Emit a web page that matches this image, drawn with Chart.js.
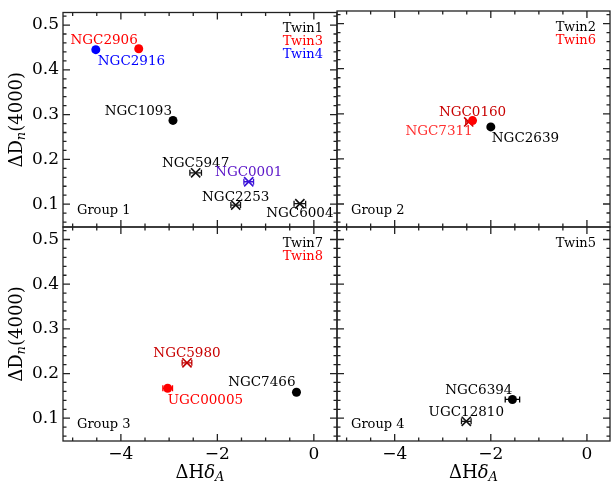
<!DOCTYPE html>
<html>
<head>
<meta charset="utf-8">
<script src="https://cdn.jsdelivr.net/npm/chart.js@4.4.0/dist/chart.umd.min.js"></script>
<style>
  body { margin: 0; background: #fff; }
  #wrap { position: relative; width: 611px; height: 483px; }
  #wrap canvas { position: absolute; left: 0; top: 0; }
</style>
</head>
<body>
<div id="wrap">
  <canvas id="c1" width="611" height="483"></canvas>
  <canvas id="c2" width="611" height="483"></canvas>
  <canvas id="c3" width="611" height="483"></canvas>
  <canvas id="c4" width="611" height="483"></canvas>
</div>
<script>
// twin pairs: delta Hdelta_A vs delta Dn(4000), one panel per group
const xRange = [-5.2, 0.48];
const yRange = [0.049, 0.528];
const xTickStep = 2;
const yTickStep = 0.1;

const g1Names = ['NGC2906', 'NGC2916', 'NGC1093', 'NGC5947', 'NGC0001', 'NGC2253', 'NGC6004'];
const g1X     = [-3.63, -4.52, -2.92, -2.45, -1.35, -1.62, -0.29];
const g1Y     = [0.447, 0.445, 0.287, 0.170, 0.150, 0.098, 0.101];
const g1Xerr  = [0.05, 0.05, 0.05, 0.12, 0.10, 0.10, 0.12];
const g1Twins = ['Twin1', 'Twin3', 'Twin4'];

const g2Names = ['NGC7311', 'NGC0160', 'NGC2639'];
const g2X     = [-2.46, -2.38, -2.00];
const g2Y     = [0.282, 0.285, 0.271];
const g2Xerr  = [0.06, 0.05, 0.05];
const g2Twins = ['Twin2', 'Twin6'];

const g3Names = ['NGC5980', 'UGC00005', 'NGC7466'];
const g3X     = [-2.63, -3.03, -0.36];
const g3Y     = [0.224, 0.167, 0.158];
const g3Xerr  = [0.10, 0.10, 0.05];
const g3Twins = ['Twin7', 'Twin8'];

const g4Names = ['NGC6394', 'UGC12810'];
const g4X     = [-1.55, -2.51];
const g4Y     = [0.142, 0.093];
const g4Xerr  = [0.15, 0.10];
const g4Twins = ['Twin5'];

// styling: marker kind, marker colour, label colour, label placement [align, dx, dy]
const panels = [
  { id: 'c1', title: 'Group 1', names: g1Names, xs: g1X, ys: g1Y, xerr: g1Xerr, twins: g1Twins,
    twinColors: ['#000', '#ff0000', '#0000ff'],
    marker: ['dot', 'dot', 'dot', 'cross', 'cross', 'cross', 'cross'],
    color: ['#ff0000', '#0000ff', '#000', '#111', '#3a12d8', '#111', '#111'],
    textColor: ['#ff0000', '#0000ff', '#000', '#000', '#5a14c8', '#000', '#000'],
    place: [['right', -1, -8], ['left', 2, 12], ['right', -1, -9], ['center', 0, -9],
            ['center', 0, -9], ['center', 0, -8], ['center', 0, 10]],
    pad: { left: 0, top: 11, right: 274, bottom: 256 }, showY: true, showX: false },
  { id: 'c2', title: 'Group 2', names: g2Names, xs: g2X, ys: g2Y, xerr: g2Xerr, twins: g2Twins,
    twinColors: ['#000', '#ff0000'],
    marker: ['cross', 'dot', 'dot'],
    color: ['#d00000', '#ff0000', '#000'],
    textColor: ['#ff3030', '#c80000', '#000'],
    place: [['right', 4, 10], ['center', 0, -8], ['left', 1, 12]],
    pad: { left: 337, top: 11, right: 1, bottom: 256 }, showY: false, showX: false },
  { id: 'c3', title: 'Group 3', names: g3Names, xs: g3X, ys: g3Y, xerr: g3Xerr, twins: g3Twins,
    twinColors: ['#000', '#ff0000'],
    marker: ['cross', 'dot', 'dot'],
    color: ['#c00000', '#ff0000', '#000'],
    textColor: ['#c80000', '#ff0000', '#000'],
    place: [['center', 0, -9], ['left', 0, 12], ['right', -1, -10]],
    pad: { left: 0, top: 227, right: 274, bottom: 0 }, showY: true, showX: true },
  { id: 'c4', title: 'Group 4', names: g4Names, xs: g4X, ys: g4Y, xerr: g4Xerr, twins: g4Twins,
    twinColors: ['#000'],
    marker: ['dot', 'cross'],
    color: ['#000', '#111'],
    textColor: ['#000', '#000'],
    place: [['right', 0, -9], ['center', 0, -9]],
    pad: { left: 337, top: 227, right: 1, bottom: 0 }, showY: false, showX: true }
];

const SERIF = '"DejaVu Serif", serif';
const frameColor = '#222';

function minusFmt(v) {
  return v < 0 ? '\u2212' + Math.abs(v) : String(v);
}

function richText(ctx, parts, cx, base) {
  let w = 0;
  parts.forEach(p => { ctx.font = p.font; p.w = ctx.measureText(p.t).width; w += p.w; });
  let x = cx - w / 2;
  ctx.textAlign = 'left';
  ctx.textBaseline = 'alphabetic';
  parts.forEach(p => { ctx.font = p.font; ctx.fillText(p.t, x, base + (p.dy || 0)); x += p.w; });
}

const panelDecor = {
  id: 'panelDecor',
  beforeDatasetsDraw(chart) {
    const p = chart.config.options.plugins.panelDecor.panel;
    const ctx = chart.ctx, xs = chart.scales.x, ys = chart.scales.y;
    ctx.save();
    ctx.lineWidth = 1.3;
    p.names.forEach((n, i) => {
      const py = ys.getPixelForValue(p.ys[i]);
      const x0 = xs.getPixelForValue(p.xs[i] - p.xerr[i]);
      const x1 = xs.getPixelForValue(p.xs[i] + p.xerr[i]);
      ctx.strokeStyle = p.color[i];
      ctx.beginPath();
      ctx.moveTo(x0, py); ctx.lineTo(x1, py);
      ctx.moveTo(x0, py - 3); ctx.lineTo(x0, py + 3);
      ctx.moveTo(x1, py - 3); ctx.lineTo(x1, py + 3);
      ctx.stroke();
    });
    ctx.restore();
  },
  afterDraw(chart) {
    const p = chart.config.options.plugins.panelDecor.panel;
    const ctx = chart.ctx, a = chart.chartArea;
    const xs = chart.scales.x, ys = chart.scales.y;
    ctx.save();

    // frame
    ctx.strokeStyle = frameColor;
    ctx.lineWidth = 1.3;
    ctx.strokeRect(a.left, a.top, a.right - a.left, a.bottom - a.top);

    // inward ticks on all four sides
    ctx.beginPath();
    for (let k = -10; k <= 1; k++) {
      const v = k * 0.5;
      if (v < xRange[0] || v > xRange[1]) continue;
      const px = xs.getPixelForValue(v);
      const len = (k % 4 === 0) ? 7 : 3.5;
      ctx.moveTo(px, a.bottom); ctx.lineTo(px, a.bottom - len);
      ctx.moveTo(px, a.top); ctx.lineTo(px, a.top + len);
    }
    for (let k = 2; k <= 26; k++) {
      const v = k * 0.02;
      if (v < yRange[0] || v > yRange[1]) continue;
      const py = ys.getPixelForValue(v);
      const len = (k % 5 === 0) ? 7 : 3.5;
      ctx.moveTo(a.left, py); ctx.lineTo(a.left + len, py);
      ctx.moveTo(a.right, py); ctx.lineTo(a.right - len, py);
    }
    ctx.stroke();

    // point labels
    ctx.font = '13.5px ' + SERIF;
    ctx.textBaseline = 'middle';
    p.names.forEach((n, i) => {
      const [align, dx, dy] = p.place[i];
      ctx.fillStyle = p.textColor[i];
      ctx.textAlign = align;
      ctx.fillText(n, xs.getPixelForValue(p.xs[i]) + dx, ys.getPixelForValue(p.ys[i]) + dy);
    });

    // group name and twin legend
    ctx.font = '13px ' + SERIF;
    ctx.fillStyle = '#000';
    ctx.textAlign = 'left';
    ctx.fillText(p.title, a.left + 14, a.bottom - 16.5);
    ctx.textAlign = 'right';
    p.twins.forEach((t, i) => {
      ctx.fillStyle = p.twinColors[i];
      ctx.fillText(t, a.right - 14, a.top + 16.5 + i * 13);
    });

    // axis titles
    ctx.fillStyle = '#000';
    if (p.showY) {
      ctx.save();
      ctx.translate(22, (a.top + a.bottom) / 2);
      ctx.rotate(-Math.PI / 2);
      richText(ctx, [
        { t: '\u0394D', font: '18px ' + SERIF },
        { t: 'n', font: 'italic 13px ' + SERIF, dy: 3 },
        { t: '(4000)', font: '18px ' + SERIF }
      ], 0, 0);
      ctx.restore();
    }
    if (p.showX) {
      richText(ctx, [
        { t: '\u0394H', font: '18px ' + SERIF },
        { t: '\u03b4', font: 'italic 18px ' + SERIF },
        { t: 'A', font: 'italic 13px ' + SERIF, dy: 3 }
      ], (a.left + a.right) / 2, 478);
    }
    ctx.restore();
  }
};

panels.forEach(p => {
  new Chart(document.getElementById(p.id), {
    type: 'scatter',
    data: {
      datasets: [{
        data: p.xs.map((x, i) => ({ x: x, y: p.ys[i] })),
        pointStyle: p.marker.map(m => m === 'dot' ? 'circle' : 'crossRot'),
        pointRadius: p.marker.map(m => m === 'dot' ? 4.5 : 6.5),
        pointBackgroundColor: p.color,
        pointBorderColor: p.color,
        pointBorderWidth: p.marker.map(m => m === 'dot' ? 0 : 1.6)
      }]
    },
    options: {
      responsive: false,
      animation: false,
      events: [],
      layout: { padding: p.pad, autoPadding: false },
      plugins: {
        legend: { display: false },
        tooltip: { enabled: false },
        panelDecor: { panel: p }
      },
      scales: {
        x: {
          type: 'linear',
          display: p.showX,
          min: xRange[0], max: xRange[1],
          grid: { display: false, drawTicks: false },
          border: { display: false },
          ticks: {
            stepSize: xTickStep, includeBounds: false, padding: 5,
            color: '#000', font: { family: SERIF, size: 17, lineHeight: 1 },
            maxRotation: 0, callback: v => minusFmt(v)
          },
          afterFit: s => { if (p.showX) s.height = 42; }
        },
        y: {
          type: 'linear',
          display: p.showY,
          min: yRange[0], max: yRange[1],
          grid: { display: false, drawTicks: false },
          border: { display: false },
          ticks: {
            stepSize: yTickStep, includeBounds: false, padding: 4,
            color: '#000', font: { family: SERIF, size: 17, lineHeight: 1 },
            callback: v => v.toFixed(1)
          },
          afterFit: s => { if (p.showY) s.width = 63; }
        }
      }
    },
    plugins: [panelDecor]
  });
});
</script>
</body>
</html>
